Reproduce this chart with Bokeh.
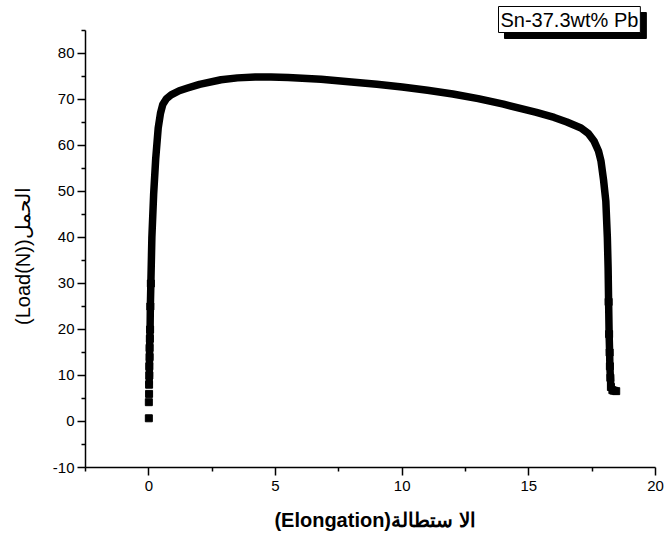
from bokeh.plotting import figure
from bokeh.models import Range1d, FixedTicker, Label
from bokeh.embed import file_html
from bokeh.resources import INLINE

# Elongation (x) and Load (N)
elongation = [0.00, 0.00, 0.01, 0.01, 0.02, 0.02, 0.03, 0.03, 0.04, 0.05,
              0.06, 0.08, 0.12, 0.19, 0.27, 0.37, 0.46, 0.55, 0.70, 0.88,
              1.20, 1.53, 2.00, 2.85, 3.50, 4.20, 4.82, 5.50, 6.80, 8.00,
              9.00, 10.00, 11.00, 12.00, 13.00, 14.00, 14.70, 15.30, 16.00, 16.50,
              17.06, 17.35, 17.58, 17.75, 17.85, 17.95, 18.04, 18.10, 18.13, 18.15,
              18.17, 18.19, 18.20, 18.22, 18.24, 18.30, 18.36, 18.45]
load = [0.7, 4.2, 6.0, 8.0, 10.0, 12.0, 14.0, 16.0, 18.0, 20.0,
        25.0, 30.0, 40.0, 49.4, 57.0, 63.8, 67.0, 68.9, 70.2, 71.0,
        71.9, 72.5, 73.3, 74.3, 74.7, 74.9, 74.9, 74.8, 74.4, 73.8,
        73.3, 72.7, 72.0, 71.2, 70.2, 69.0, 68.0, 67.2, 66.1, 65.1,
        63.8, 62.6, 60.9, 58.8, 56.6, 52.5, 47.9, 40.0, 33.4, 26.0,
        19.0, 15.0, 12.0, 9.5, 7.5, 6.8, 6.7, 6.6]

x_major = [0, 5, 10, 15, 20]
x_minor = [-2.5, 2.5, 7.5, 12.5, 17.5]
y_major = [-10, 0, 10, 20, 30, 40, 50, 60, 70, 80]
y_minor = [-5, 5, 15, 25, 35, 45, 55, 65, 75, 85]
y_tick_labels = ["-10", "0", "10", "20", "30", "40", "50", "60", "70", "80"]

series_label = "Sn-37.3wt% Pb"
x_label = "(Elongation)الا ستطالة"
y_label = "(Load(N))الحمل"

FONT = "Liberation Sans"

# frame spans to the top/right canvas edges so the framed label is not clipped;
# the axis lines are limited with bounds
p = figure(width=664, height=542, output_backend="svg", toolbar_location=None,
           x_range=Range1d(-2.5, 20.356), y_range=Range1d(-10, 91.52),
           min_border_left=85, min_border_right=0, min_border_top=0, min_border_bottom=75,
           x_axis_location="below", y_axis_location="left")
p.outline_line_color = None
p.xgrid.visible = False
p.ygrid.visible = False
p.background_fill_color = "white"
p.border_fill_color = "white"

p.line(elongation[3:], load[3:], line_width=7.5, line_color="black", line_join="round")
p.scatter(elongation[:12], load[:12], marker="square", size=7, color="black")
p.scatter(elongation[-9:], load[-9:], marker="square", size=7, color="black")

p.xaxis.bounds = (-2.5, 20)
p.yaxis.bounds = (-10, 85)

for ax, major, minor in ((p.xaxis[0], x_major, x_minor), (p.yaxis[0], y_major, y_minor)):
    ax.ticker = FixedTicker(ticks=major, minor_ticks=minor)
    ax.axis_line_width = 1.5
    ax.axis_line_color = "black"
    ax.major_tick_line_width = 1.5
    ax.minor_tick_line_width = 1.5
    ax.major_tick_out = 8
    ax.major_tick_in = 0
    ax.minor_tick_out = 4
    ax.minor_tick_in = 0
    ax.major_label_text_font = FONT
    ax.major_label_text_font_size = "15px"
    ax.major_label_text_color = "black"
    ax.axis_label_text_font = FONT
    ax.axis_label_text_color = "black"

p.yaxis.major_label_overrides = {v: t for v, t in zip(y_major, y_tick_labels)}
p.xaxis.major_label_standoff = 5
p.yaxis.major_label_standoff = 3

# trailing no-break spaces move the (frame-centred) title down to the
# centre of the drawn axis
p.yaxis.axis_label = y_label + "\u00a0" * 8
p.yaxis.axis_label_text_font_size = "20px"
p.yaxis.axis_label_text_font_style = "normal"
p.yaxis.axis_label_standoff = 16

p.xaxis.axis_label = x_label
p.xaxis.axis_label_text_font_size = "20px"
p.xaxis.axis_label_text_font_style = "bold"
p.xaxis.axis_label_standoff = 15

# framed series label with drop shadow
common = dict(x_units="screen", y_units="screen", text=series_label, text_align="left",
              text_baseline="middle", text_font=FONT, text_font_size="20px", padding=2)
p.add_layout(Label(x=419, y=442, text_color="black", background_fill_color="black",
                   border_line_color="black", **common))
p.add_layout(Label(x=413, y=448, text_color="black", background_fill_color="white",
                   border_line_color="black", border_line_width=1, **common))

open("out.html", "w").write(file_html(p, INLINE))
